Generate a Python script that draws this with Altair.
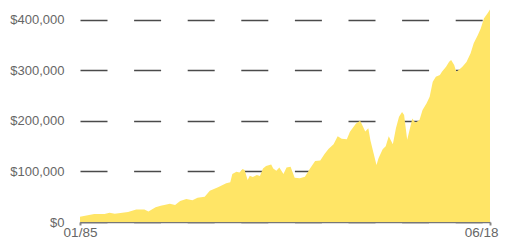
import altair as alt
import pandas as pd

dates = [
    "1985-01", "1986-03", "1987-01", "1987-06", "1987-11", "1988-12", "1989-08",
    "1990-04", "1990-08", "1991-03", "1991-08", "1992-05", "1992-10", "1993-03",
    "1993-09", "1994-03", "1994-08", "1995-03", "1995-08", "1996-04", "1996-12",
    "1997-04", "1997-06", "1997-10", "1998-01", "1998-04", "1998-06", "1998-09",
    "1998-11", "1999-02", "1999-06", "1999-09", "1999-12", "2000-03", "2000-08",
    "2000-10", "2001-01", "2001-04", "2001-08", "2001-11", "2002-03", "2002-07",
    "2002-12", "2003-05", "2003-10", "2004-03", "2004-08", "2004-12", "2005-04",
    "2005-09", "2006-01", "2006-05", "2006-10", "2007-01", "2007-07", "2007-11",
    "2008-01", "2008-04", "2008-07", "2008-09", "2008-12", "2009-03", "2009-05",
    "2009-09", "2009-12", "2010-03", "2010-07", "2010-10", "2011-01", "2011-04",
    "2011-06", "2011-09", "2012-02", "2012-05", "2012-09", "2012-12", "2013-04",
    "2013-07", "2013-10", "2014-01", "2014-05", "2014-07", "2014-11", "2015-02",
    "2015-04", "2015-07", "2015-09", "2015-12", "2016-03", "2016-07", "2016-11",
    "2017-02", "2017-06", "2017-09", "2017-12", "2018-04", "2018-06",
]
values = [
    10500, 15800, 16000, 18500, 16500, 19800, 25000,
    25000, 21000, 29000, 32000, 36000, 33700, 41600,
    45500, 43000, 48000, 50000, 62000, 68700, 76600,
    78600, 95000, 99600, 98000, 105000, 103000, 83000,
    91700, 89000, 93000, 91000, 106000, 111000, 114000,
    106000, 101600, 108000, 95000, 108000, 109500, 87700,
    86500, 89700, 106000, 120800, 122000, 134000, 144600,
    154000, 170000, 165000, 163700, 178800, 195000, 200600,
    192000, 179000, 185500, 162000, 137000, 113000, 126000,
    144000, 150000, 170000, 154000, 185500, 208500, 218000,
    212000, 163000, 205000, 196700, 202000, 221800, 235000,
    248000, 277800, 287700, 291000, 297600, 307500, 317400,
    320800, 310900, 297600, 302000, 307500, 317000, 334000,
    353800, 370000, 383600, 403000, 414500, 421000,
]

df = pd.DataFrame({"date": [d + "-01" for d in dates], "value": values})

y_ticks = [0, 100000, 200000, 300000, 400000]
FONT = "Liberation Sans"

start = alt.DateTime(year=1985, month=1, date=1, utc=True)
end = alt.DateTime(year=2018, month=6, date=1, utc=True)
is_last = "datum.value > 1000000000000"

chart = (
    alt.Chart(df)
    .mark_area(color="#FFE566", opacity=1, interpolate="linear")
    .encode(
        x=alt.X(
            "date:T",
            scale=alt.Scale(type="utc", domain=[start, end], nice=False),
            axis=alt.Axis(
                title=None,
                values=[start, end],
                format="%m/%y",
                grid=False,
                domainColor="#777777",
                domainWidth=1.5,
                tickColor="#888888",
                tickWidth=2,
                tickSize=3,
                labelFont=FONT,
                labelFontSize=13.5,
                labelColor="#666666",
                labelPadding=0,
                labelFlush=False,
                labelAlign=alt.condition(is_last, alt.value("right"), alt.value("center")),
                labelOffset=alt.condition(is_last, alt.value(8), alt.value(0)),
            ),
        ),
        y=alt.Y(
            "value:Q",
            scale=alt.Scale(domain=[0, 423762], nice=False),
            axis=alt.Axis(
                title=None,
                values=y_ticks,
                format="$,.0f",
                domain=False,
                ticks=False,
                grid=True,
                gridColor="#4a4a4a",
                gridWidth=1.5,
                gridDash=[27, 26.6],
                labelFont=FONT,
                labelFontSize=13,
                labelColor="#666666",
                labelPadding=16,
            ),
        ),
    )
    .properties(
        width=410,
        height=214,
        autosize=alt.AutoSizeParams(type="none"),
        padding={"left": 72, "top": 0, "right": 9, "bottom": 16},
    )
    .configure_view(stroke=None)
)

chart.save("out.html", embed_options={"renderer": "svg", "actions": False})
